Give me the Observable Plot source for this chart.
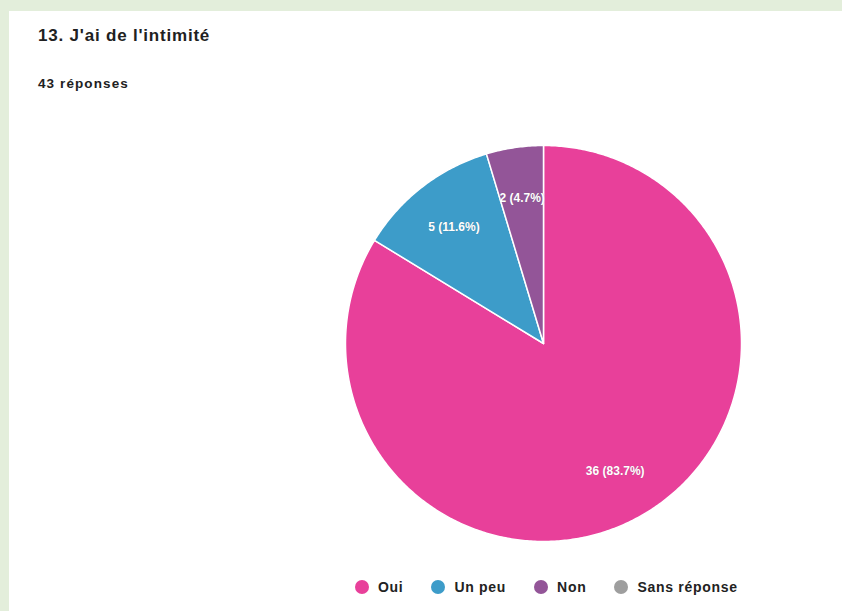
<!DOCTYPE html>
<html><head><meta charset="utf-8">
<script src="https://cdn.jsdelivr.net/npm/d3@7"></script>
<script src="https://cdn.jsdelivr.net/npm/@observablehq/plot@0.6"></script>
<style>
html,body{margin:0;padding:0;width:842px;height:611px;overflow:hidden;background:#e3eedb;font-family:"Liberation Sans",Arial,sans-serif;}
#card{position:absolute;left:9px;top:11px;width:833px;height:600px;background:#fff;}
#title{position:absolute;left:29px;top:15px;font-size:17px;letter-spacing:0.8px;font-weight:bold;color:#212121;}
#sub{position:absolute;left:29px;top:65px;font-size:13.5px;letter-spacing:1.1px;font-weight:bold;color:#212121;}
#chart{position:absolute;left:325px;top:121px;}
#legend{position:absolute;left:346px;top:567px;height:18px;display:flex;font-size:14px;letter-spacing:0.7px;font-weight:bold;color:#222;}
.item{display:flex;align-items:center;margin-right:28px;}
.dot{width:14px;height:14px;border-radius:50%;margin-right:9px;}
</style></head>
<body>
<div id="card">
  <div id="title">13. J'ai de l'intimité</div>
  <div id="sub">43 réponses</div>
  <div id="chart"></div>
  <div id="legend"></div>
</div>
<script>
const categories = ["Oui", "Un peu", "Non", "Sans réponse"];
const values = [36, 5, 2, 0];
const colors = ["#e8409a", "#3d9cc9", "#935598", "#9e9e9e"];

const total = d3.sum(values);
const pie = d3.pie().sort(null).value(d => d.value)(categories.map((key, i) => ({key, value: values[i]})));

// Polygon outline of each slice, in unit-circle coordinates (angle clockwise from top)
const outline = [];
const labels = [];
for (const p of pie) {
  if (p.value === 0) continue;
  const key = p.data.key;
  outline.push({key, x: 0, y: 0});
  const n = Math.max(2, Math.ceil((p.endAngle - p.startAngle) / 0.01));
  for (let k = 0; k <= n; k++) {
    const a = p.startAngle + (p.endAngle - p.startAngle) * k / n;
    outline.push({key, x: Math.sin(a), y: Math.cos(a)});
  }
  outline.push({key, x: 0, y: 0});
  const m = (p.startAngle + p.endAngle) / 2;
  labels.push({key, x: 0.74 * Math.sin(m), y: 0.74 * Math.cos(m),
    text: `${p.value} (${(100 * p.value / total).toFixed(1)}%)`});
}

const chart = Plot.plot({
  width: 418, height: 422,
  marginLeft: 11, marginRight: 11, marginTop: 13, marginBottom: 13,
  x: {domain: [-1, 1], axis: null},
  y: {domain: [-1, 1], axis: null},
  color: {domain: categories, range: colors},
  style: {background: "transparent", overflow: "visible"},
  marks: [
    Plot.line(outline, {x: "x", y: "y", z: "key", fill: "key", stroke: "white", strokeWidth: 1.5, strokeLinejoin: "round", curve: "linear"}),
    Plot.text(labels, {x: "x", y: "y", text: "text", fill: "white", fontSize: 12, fontWeight: "bold",
      letterSpacing: "0.6px",
      stroke: "#555", strokeWidth: 0.6, strokeOpacity: 0.35, fontFamily: "Liberation Sans, Arial, sans-serif"})
  ]
});
document.getElementById("chart").appendChild(chart);

const legend = document.getElementById("legend");
categories.forEach((c, i) => {
  const it = document.createElement("div");
  it.className = "item";
  it.innerHTML = `<span class="dot" style="background:${colors[i]}"></span><span>${c}</span>`;
  legend.appendChild(it);
});
</script>
</body></html>
